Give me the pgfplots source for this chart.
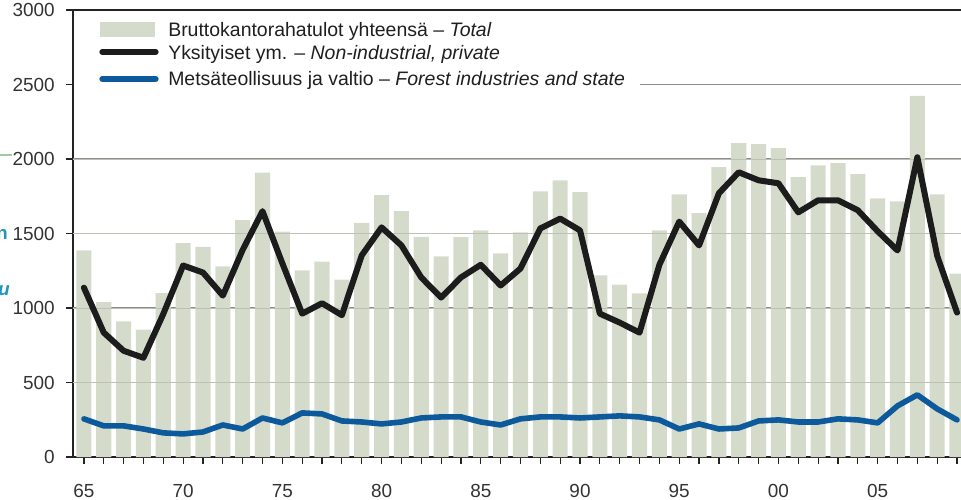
\documentclass[border=0pt]{standalone}
\usepackage{fontspec}
\setmainfont{Liberation Sans}
\usepackage{pgfplots}
\pgfplotsset{compat=1.18}
\definecolor{barfill}{RGB}{213,219,203}
\definecolor{barline}{RGB}{188,193,180}
\definecolor{privline}{RGB}{28,28,28}
\definecolor{forestline}{RGB}{12,90,155}
\definecolor{gridc}{RGB}{140,140,140}
\definecolor{axisc}{RGB}{35,35,35}
\definecolor{edgeteal}{RGB}{30,150,185}
\definecolor{edgegreen}{RGB}{160,205,160}

\begin{document}
\begin{tikzpicture}
% page = 961x500 px, 1 px = 0.75pt, origin at the lower left corner of the axis
\useasboundingbox (-54.75pt,-32.25pt) rectangle (666pt,342.75pt);
\begin{axis}[
  at={(0pt,0pt)},
  anchor=south west,
  scale only axis,
  width=666pt,
  height=335.25pt,
  xmin=1964.45,
  xmax=2009.2,
  ymin=0,
  ymax=3000,
  axis x line*=bottom,
  axis y line*=left,
  axis line style={-,axisc,line width=1.6pt},
  xtick={1965,1970,1975,1980,1985,1990,1995,2000,2005},
  xticklabels={65,70,75,80,85,90,95,00,05},
  minor xtick={1966,1967,1968,1969,1971,1972,1973,1974,1976,1977,1978,1979,1981,1982,1983,1984,1986,1987,1988,1989,1991,1992,1993,1994,1996,1997,1998,1999,2001,2002,2003,2004,2006,2007,2008,2009},
  ytick={0,500,1000,1500,2000,2500,3000},
  yticklabels={0,500,1000,1500,2000,2500,3000},
  tick align=outside,
  major tick length=5pt,
  minor tick length=5pt,
  tick style={axisc,line width=0.9pt},
  ticklabel style={font=\fontsize{14.2}{16}\selectfont,text=black!80},
  xticklabel style={anchor=north,inner sep=0pt,yshift=-15.25pt},
  yticklabel style={anchor=east,inner sep=0pt,xshift=-8.5pt},
]
% grid behind the bars
\draw[gridc,line width=0.75pt] (axis cs:1964.45,500) -- (axis cs:2009.2,500);
\draw[gridc,line width=0.75pt] (axis cs:1964.45,1000) -- (axis cs:2009.2,1000);
\draw[gridc,line width=0.75pt] (axis cs:1964.45,1500) -- (axis cs:2009.2,1500);
\draw[gridc,line width=0.75pt] (axis cs:1964.45,2000) -- (axis cs:2009.2,2000);
\draw[gridc,line width=0.75pt] (axis cs:1993.0,2500) -- (axis cs:2009.2,2500);

% Bruttokantorahatulot yhteensa - Total
\addplot[ybar,bar width=0.76,fill=barfill,draw=none] coordinates {
  (1965,1386) (1966,1040) (1967,910) (1968,855) (1969,1100)
  (1970,1435) (1971,1410) (1972,1280) (1973,1590) (1974,1908)
  (1975,1512) (1976,1252) (1977,1312) (1978,1191) (1979,1572)
  (1980,1758) (1981,1650) (1982,1477) (1983,1346) (1984,1475)
  (1985,1521) (1986,1366) (1987,1507) (1988,1783) (1989,1857)
  (1990,1777) (1991,1219) (1992,1157) (1993,1098) (1994,1521)
  (1995,1763) (1996,1636) (1997,1945) (1998,2107) (1999,2100)
  (2000,2073) (2001,1878) (2002,1958) (2003,1972) (2004,1898)
  (2005,1736) (2006,1716) (2007,2423) (2008,1763) (2009,1231)
};

% faint grid over the bars
\draw[barline,line width=0.6pt] (axis cs:1964.45,500) -- (axis cs:2009.2,500);
\draw[barline,line width=0.6pt] (axis cs:1964.45,1000) -- (axis cs:2009.2,1000);
\draw[barline,line width=0.6pt] (axis cs:1964.45,1500) -- (axis cs:2009.2,1500);
\draw[barline,line width=0.6pt] (axis cs:1964.45,2000) -- (axis cs:2009.2,2000);

% Yksityiset ym. - Non-industrial, private
\addplot[privline,mark=none,line width=4.5pt,line join=round,line cap=round] coordinates {
  (1965,1137) (1966,835) (1967,713) (1968,666) (1969,960)
  (1970,1285) (1971,1238) (1972,1083) (1973,1390) (1974,1650)
  (1975,1300) (1976,962) (1977,1032) (1978,952) (1979,1353)
  (1980,1541) (1981,1420) (1982,1205) (1983,1070) (1984,1205)
  (1985,1290) (1986,1151) (1987,1265) (1988,1534) (1989,1600)
  (1990,1521) (1991,962) (1992,902) (1993,835) (1994,1290)
  (1995,1580) (1996,1420) (1997,1770) (1998,1911) (1999,1857)
  (2000,1837) (2001,1642) (2002,1723) (2003,1723) (2004,1656)
  (2005,1515) (2006,1386) (2007,2012) (2008,1350) (2009,969)
};

% Metsateollisuus ja valtio - Forest industries and state
\addplot[forestline,mark=none,line width=4.2pt,line join=round,line cap=round] coordinates {
  (1965,256) (1966,209) (1967,209) (1968,188) (1969,162)
  (1970,155) (1971,168) (1972,215) (1973,188) (1974,262)
  (1975,229) (1976,296) (1977,289) (1978,242) (1979,235)
  (1980,222) (1981,235) (1982,262) (1983,269) (1984,269)
  (1985,235) (1986,215) (1987,256) (1988,269) (1989,269)
  (1990,262) (1991,269) (1992,276) (1993,269) (1994,249)
  (1995,188) (1996,222) (1997,188) (1998,195) (1999,242)
  (2000,249) (2001,235) (2002,235) (2003,256) (2004,249)
  (2005,229) (2006,343) (2007,417) (2008,323) (2009,249)
};
\end{axis}

% top frame line at 3000
\draw[axisc,line width=1.6pt] (-0.8pt,335.25pt) -- (670pt,335.25pt);

% legend
\fill[barfill] (20.25pt,315pt) rectangle (61.5pt,326.25pt);
\draw[privline,line width=4.5pt,line cap=round] (22pt,303.75pt) -- (62pt,303.75pt);
\draw[forestline,line width=4.5pt,line cap=round] (22pt,283.5pt) -- (62pt,283.5pt);
\begin{scope}[every node/.style={anchor=base west,inner sep=0pt,text=black!88,font=\fontsize{14.6}{17}\selectfont}]
\node at (71.25pt,315.3pt) {Bruttokantorahatulot yhteensä – \textit{Total}};
\node at (71.25pt,298.2pt) {Yksityiset ym. – \textit{Non-industrial, private}};
\node at (71.25pt,278.3pt) {Metsäteollisuus ja valtio – \textit{Forest industries and state}};
\end{scope}

% cut-off remnants at the left edge
\draw[edgegreen,line width=2pt] (-55pt,226.5pt) -- (-45.75pt,226.5pt);
\node[anchor=base east,inner sep=0pt,text=edgeteal,font=\bfseries\fontsize{14}{16}\selectfont] at (-48.75pt,162.75pt) {n};
\node[anchor=base east,inner sep=0pt,text=edgeteal,font=\bfseries\itshape\fontsize{14}{16}\selectfont] at (-47.25pt,120.75pt) {u};
\end{tikzpicture}
\end{document}
